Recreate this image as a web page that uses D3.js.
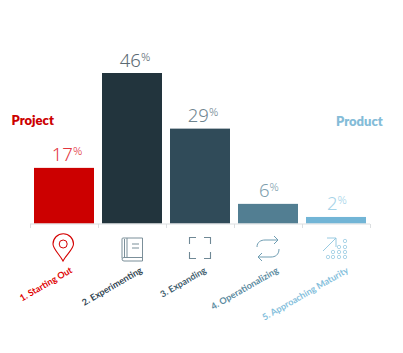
<!DOCTYPE html>
<html><head><meta charset="utf-8">
<script src="https://cdn.jsdelivr.net/npm/d3@7"></script>
<style>
html,body{margin:0;padding:0;background:#fff}
svg{display:block}
text{font-family:Lato,"Open Sans",sans-serif}
text.val{font-family:"Noto Sans",Lato,sans-serif}
</style></head><body>
<svg id="c" width="403" height="353"></svg>
<script>
const categories=["1. Starting Out","2. Experimenting","3. Expanding","4. Operationalizing","5. Approaching Maturity"];
const values=[17,46,29,6,2];
const barColors=["#cc0000","#22343d","#304b59","#527e92","#72b5d6"];
const valueColors=["#e2353d","#5b6a73","#6f858f","#7f9fae","#a5d3e8"];
const labelColors=["#e00000","#2f4450","#3f5e6e","#5a8aa0","#84c0dc"];
const iconColors=["#d40000","#7b8f99","#6f8895","#6f9db2","#8cc4de"];
const groupLabels=[{text:"Project",color:"#cc0000"},{text:"Product",color:"#84bcd8"}];
const labelEndOffset=[9,11,7,11,13];

const svg=d3.select("#c");
const x=d3.scaleBand().domain(categories).range([30,370]).paddingInner(8/68).paddingOuter(4/68);
const y=d3.scaleLinear().domain([0,46]).range([223.5,73]);
const edge=d3.scaleBand().domain(categories).range([30,370]);

svg.selectAll("rect.bar").data(values).join("rect").attr("class","bar")
  .attr("x",(d,i)=>x(categories[i])).attr("y",d=>y(d))
  .attr("width",x.bandwidth()).attr("height",d=>y(0)-y(d))
  .attr("fill",(d,i)=>barColors[i]);

// axis bracket
const ax=svg.append("g").attr("stroke","#dcdfe1").attr("fill","none");
ax.append("line").attr("x1",30).attr("x2",370).attr("y1",224).attr("y2",224).attr("stroke-width",1);
[...categories.map(c=>edge(c)),370].forEach(t=>{
  ax.append("line").attr("x1",t+.5).attr("x2",t+.5).attr("y1",224).attr("y2",228);
});

// value labels
values.forEach((v,i)=>{
  const cx=x(categories[i])+x.bandwidth()/2+(v>=10?3:1);
  const g=svg.append("text").attr("class","val").attr("x",cx).attr("y",y(v)-6.5).attr("text-anchor","middle")
    .attr("fill",valueColors[i]).attr("font-weight",300);
  g.append("tspan").attr("font-size",18.5).text(v);
  g.append("tspan").attr("font-size",11.5).attr("dy",-6).text("%");
});

// group labels
svg.append("text").attr("x",11.5).attr("y",125).attr("font-size",13).attr("font-weight",800)
  .attr("fill",groupLabels[0].color).text(groupLabels[0].text);
svg.append("text").attr("x",336).attr("y",126).attr("font-size",13).attr("font-weight",800)
  .attr("fill",groupLabels[1].color).text(groupLabels[1].text);

// rotated labels
categories.forEach((c,i)=>{
  const cx=x(c)+x.bandwidth()/2;
  svg.append("text").attr("transform",`translate(${cx+labelEndOffset[i]},${272}) rotate(-30)`)
    .attr("text-anchor","end").attr("font-size",9).attr("font-weight",700)
    .attr("fill",labelColors[i]).text(c);
});

// icons (centred on band, origin at bar centre x, y=0 at 234)
const icon=i=>svg.append("g").attr("transform",`translate(${x(categories[i])+x.bandwidth()/2},234)`)
  .attr("fill","none").attr("stroke",iconColors[i]).attr("stroke-width",1);
let g=icon(0);
g.append("path").attr("d","M-1,27 C-4,21 -11,15 -11,10 A10,10 0 1 1 9.5,10 C9.5,15 2,21 -1,27Z").attr("stroke-width",1.1);
g.append("circle").attr("cx",-.8).attr("cy",10).attr("r",4);
g=icon(1);
g.append("path").attr("d","M-10,24 L-10,5 Q-10,4 -9,4 L10.5,4 L10.5,27 L-8,27 Q-10,27 -10,25 Q-10,23.5 -8,23.5 L10.5,23.5").attr("stroke-width",1);
g.append("path").attr("d","M-5,4 L-5,23.5 M-7.5,5 L-7.5,23").attr("stroke-width",1);
g.append("path").attr("d","M0,10 L7,10 M0,14 L7,14").attr("stroke-width",1);
g=icon(2);
g.append("path").attr("d","M-4,3.5 L-10.5,3.5 L-10.5,10 M4,3.5 L10.5,3.5 L10.5,10 M-10.5,18 L-10.5,24.5 L-4,24.5 M10.5,18 L10.5,24.5 L4,24.5").attr("stroke-width",1.1);
g=icon(3);
g.append("path").attr("d","M-11,13 C-11,8 -7,6 -3,6 L10,6 M6,2 L10,6 L6,10 M11,15 C11,21 7,23 3,23 L-10,23 M-6,19 L-10,23 L-6,27").attr("stroke-width",1);
g=icon(4);
g.append("path").attr("d","M-13,17 L0,4 M-9,4 L0,4 L0,13").attr("stroke-width",.9);
[[9,7],[3,13],[9,13],[-3,18],[3,18],[9,18],[-8,23],[-3,23],[3,23],[9,23]].forEach(p=>{
  g.append("circle").attr("cx",p[0]).attr("cy",p[1]).attr("r",1.7).attr("stroke-width",.7);
});
</script></body></html>
